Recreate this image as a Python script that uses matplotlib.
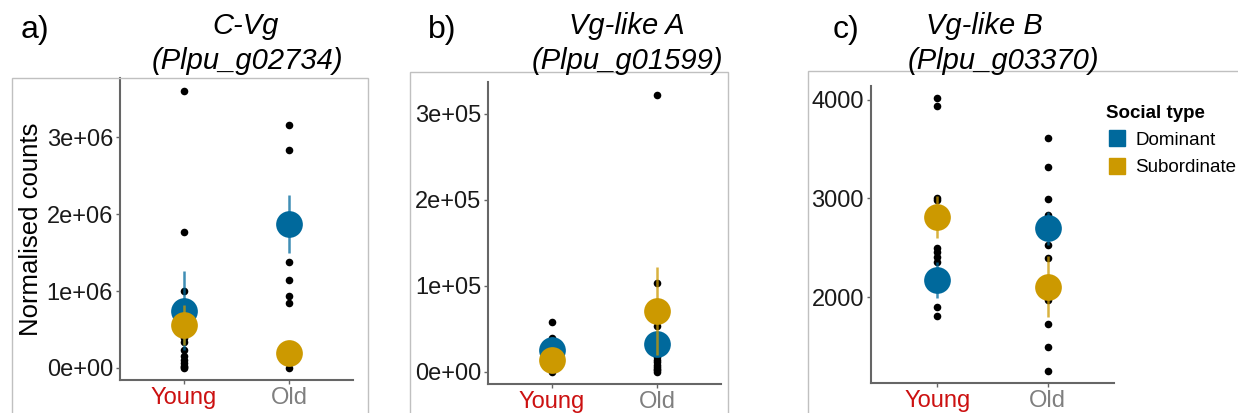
import matplotlib
matplotlib.use("Agg")
import matplotlib.pyplot as plt
from matplotlib.patches import Rectangle
from matplotlib.lines import Line2D

plt.rcParams['font.family'] = ['Liberation Sans', 'DejaVu Sans']

W, H = 1238, 413

ages = ["Young", "Old"]
age_colors = ["#CC1111", "#7F7F7F"]
social_types = ["Dominant", "Subordinate"]
social_colors = ["#00699C", "#CC9900"]

# panel a : C-Vg
a_young = [3.60e6, 1.77e6, 1.00e6, 0.39e6, 0.34e6, 0.23e6, 0.15e6, 0.10e6, 0.06e6, 0.03e6, 0.01e6, 0.0]
a_old = [3.16e6, 2.84e6, 1.38e6, 1.14e6, 0.93e6, 0.84e6, 0.28e6, 0.22e6, 0.16e6, 0.11e6, 0.06e6, 0.0]
a_mean_dom = [0.745e6, 1.87e6]
a_se_dom = [0.515e6, 0.375e6]
a_mean_sub = [0.56e6, 0.19e6]
a_se_sub = [0.26e6, 0.10e6]

# panel b : Vg-like A
b_young = [0.578e5, 0.40e5, 0.33e5, 0.27e5, 0.22e5, 0.17e5, 0.12e5, 0.09e5, 0.06e5, 0.04e5, 0.02e5, 0.005e5]
b_old = [3.22e5, 1.03e5, 0.535e5, 0.20e5, 0.17e5, 0.14e5, 0.11e5, 0.08e5, 0.06e5, 0.04e5, 0.02e5, 0.005e5]
b_mean_dom = [0.26e5, 0.33e5]
b_se_dom = [0.15e5, 0.12e5]
b_mean_sub = [0.14e5, 0.71e5]
b_se_sub = [0.06e5, 0.51e5]

# panel c : Vg-like B
c_young = [4017, 3939, 3008, 2985, 2494, 2454, 2409, 2358, 2200, 2150, 1902, 1811]
c_old = [3611, 3317, 2992, 2832, 2700, 2528, 2393, 2100, 1970, 1726, 1489, 1252]
c_mean_dom = [2173, 2697]
c_se_dom = [185, 170]
c_mean_sub = [2815, 2105]
c_se_sub = [215, 310]


def px_box(left, top, right, bottom):
    """pixel box -> figure fraction [x, y, w, h]"""
    return [left / W, 1 - bottom / H, (right - left) / W, (bottom - top) / H]


def draw_panel(fig, box, young, old, mean_dom, se_dom, mean_sub, se_sub,
               ylim, yticks, yticklabels):
    ax = fig.add_axes(px_box(*box))
    xs = [1, 2]
    for x, vals in zip(xs, [young, old]):
        ax.scatter([x] * len(vals), vals, s=30, color="black", zorder=2, linewidths=0)
    for means, ses, col, z in [(mean_dom, se_dom, social_colors[0], 3),
                               (mean_sub, se_sub, social_colors[1], 4)]:
        for x, m, s in zip(xs, means, ses):
            ax.vlines(x, m - s, m + s, color=col, lw=1.8, alpha=0.75, zorder=z)
        ax.scatter(xs, means, s=370, color=col, zorder=z + 0.5, linewidths=0)
    ax.set_xlim(0.4, 2.6)
    ax.set_ylim(*ylim)
    ax.set_xticks(xs)
    ax.set_xticklabels(ages, fontsize=17)
    for lab, c in zip(ax.get_xticklabels(), age_colors):
        lab.set_color(c)
    ax.set_yticks(yticks)
    ax.set_yticklabels(yticklabels, fontsize=17, color="#1A1A1A")
    for side in ["top", "right"]:
        ax.spines[side].set_visible(False)
    for side in ["left", "bottom"]:
        ax.spines[side].set_color("#666666")
        ax.spines[side].set_linewidth(1.5)
    ax.tick_params(length=3, width=1, color="#666666", pad=2)
    return ax


fig = plt.figure(figsize=(W / 100, H / 100), dpi=100)

# light grey frames round each panel
for l, t, r in [(12, 78, 368), (410, 72, 728), (808, 71, 1260)]:
    fig.patches.append(Rectangle((l / W, -0.1), (r - l) / W, 1 - t / H + 0.1,
                                 transform=fig.transFigure, fill=False,
                                 edgecolor="#C0C0C0", lw=1))

ax_a = draw_panel(fig, (120, 78, 353, 380), a_young, a_old, a_mean_dom, a_se_dom,
                  a_mean_sub, a_se_sub, (-0.156e6, 3.77e6),
                  [0, 1e6, 2e6, 3e6], ["0e+00", "1e+06", "2e+06", "3e+06"])
ax_a.set_ylabel("Normalised counts", fontsize=18.5, labelpad=3)

ax_b = draw_panel(fig, (488, 82, 721, 384), b_young, b_old, b_mean_dom, b_se_dom,
                  b_mean_sub, b_se_sub, (-0.14e5, 3.37e5),
                  [0, 1e5, 2e5, 3e5], ["0e+00", "1e+05", "2e+05", "3e+05"])

ax_c = draw_panel(fig, (871, 86, 1114, 383), c_young, c_old, c_mean_dom, c_se_dom,
                  c_mean_sub, c_se_sub, (1127, 4142),
                  [2000, 3000, 4000], ["2000", "3000", "4000"])

# titles (two lines, each with its own centre) and panel letters
titles = [("C-Vg", 246, "(Plpu_g02734)", 247), ("Vg-like A", 627, "(Plpu_g01599)", 627),
          ("Vg-like B", 984, "(Plpu_g03370)", 1003)]
for t1, x1, t2, x2 in titles:
    fig.text(x1 / W, 1 - 26 / H, t1, ha="center", va="center", fontsize=21, style="italic")
    fig.text(x2 / W, 1 - 61 / H, t2, ha="center", va="center", fontsize=21, style="italic")
for lab, xl in [("a)", 21), ("b)", 428), ("c)", 833)]:
    fig.text(xl / W, 1 - 30 / H, lab, ha="left", va="center", fontsize=23)

handles = [Line2D([], [], marker="s", ls="none", markersize=12, color=c) for c in social_colors]
leg = fig.legend(handles, social_types, loc="upper left",
                 bbox_to_anchor=(1098 / W, 1 - 97 / H), frameon=False,
                 title="Social type", fontsize=13.5, handletextpad=0.4,
                 labelspacing=0.55, borderaxespad=0, handlelength=1.2)
leg.get_title().set_fontweight("bold")
leg.get_title().set_fontsize(13.5)
leg._legend_box.align = "left"

fig.savefig("out.png", dpi=100)
